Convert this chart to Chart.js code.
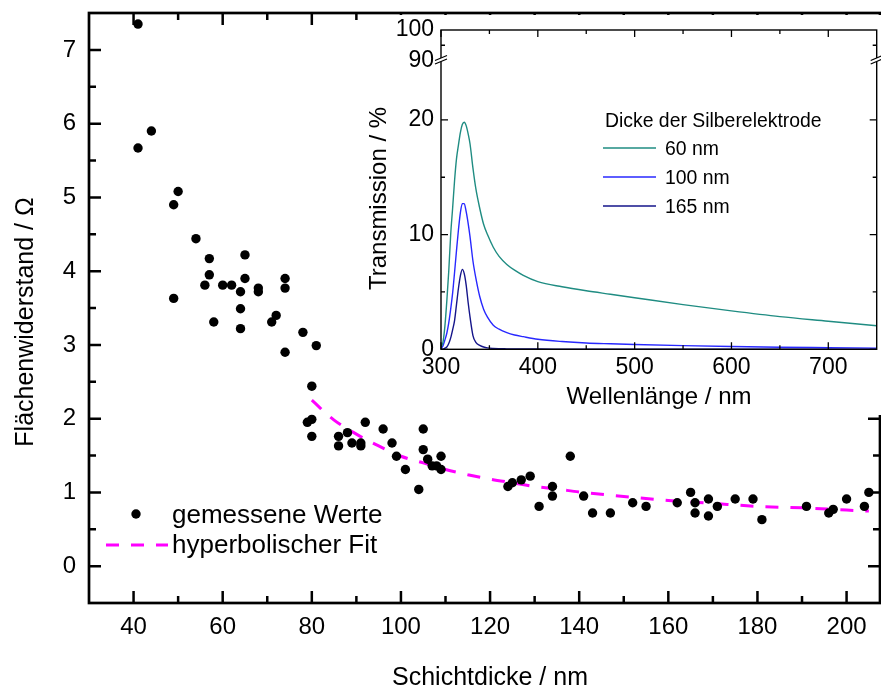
<!DOCTYPE html>
<html>
<head>
<meta charset="utf-8">
<script src="https://cdn.jsdelivr.net/npm/chart.js@4/dist/chart.umd.min.js"></script>
<style>
  body { margin: 0; background: #fff; }
  #wrap { position: relative; width: 881px; height: 689px; }
  #mainChart { position: absolute; left: 0; top: 0; }
  #insetChart { position: absolute; left: 362px; top: 15px; }
</style>
</head>
<body>
<div id="wrap">
  <canvas id="mainChart" width="881" height="689"></canvas>
  <canvas id="insetChart" width="519" height="400"></canvas>
</div>

<script>
// Flächenwiderstand über Schichtdicke (Messpunkte)
var schichtdicke = [41, 41, 44, 49, 50, 49, 54, 57, 57, 56, 58, 60, 62, 65, 65, 64, 64, 64, 68, 68,
  71, 72, 74, 74, 78, 81, 74, 80, 79, 80, 80, 86, 86, 88, 89, 91, 91, 92, 96, 98,
  99, 101, 104, 105, 105, 106, 107, 108, 109, 109, 124, 125, 127, 129, 131, 134, 134, 138, 141, 143,
  147, 152, 155, 162, 165, 166, 166, 169, 169, 171, 175, 179, 181, 191, 196, 197, 200, 204, 205];
var widerstand = [7.35, 5.67, 5.90, 4.90, 5.08, 3.63, 4.44, 4.17, 3.95, 3.81, 3.31, 3.81, 3.81, 4.22, 3.90, 3.72, 3.49, 3.22, 3.77, 3.72,
  3.31, 3.40, 3.90, 3.77, 3.17, 2.99, 2.90, 2.44, 1.95, 1.99, 1.76, 1.76, 1.63, 1.81, 1.67, 1.67, 1.63, 1.95, 1.86, 1.67,
  1.49, 1.31, 1.04, 1.86, 1.58, 1.45, 1.36, 1.36, 1.49, 1.31, 1.08, 1.13, 1.17, 1.22, 0.81, 1.08, 0.95, 1.49, 0.95, 0.72,
  0.72, 0.86, 0.81, 0.86, 1.00, 0.86, 0.72, 0.91, 0.68, 0.81, 0.91, 0.91, 0.63, 0.81, 0.72, 0.77, 0.91, 0.81, 1.00];

// hyperbolischer Fit
var fitDicke = [80, 85, 90, 95, 100, 105, 110, 115, 120, 125, 130, 135, 140, 150, 160, 170, 180, 190, 200, 205];
var fitWert  = [2.25, 1.98, 1.79, 1.63, 1.49, 1.40, 1.31, 1.24, 1.18, 1.13, 1.08, 1.045, 1.005, 0.945, 0.89, 0.85, 0.81, 0.79, 0.76, 0.747];

var xTicksMain = [40, 60, 80, 100, 120, 140, 160, 180, 200];
var xMinorMain = [50, 70, 90, 110, 130, 150, 170, 190];
var yTicksMain = [0, 1, 2, 3, 4, 5, 6, 7];
var yMinorMain = [0.5, 1.5, 2.5, 3.5, 4.5, 5.5, 6.5];

// Transmissionsspektren
var wellenlaenge = [300, 302, 304, 306, 308, 310, 312, 314, 316, 318, 320, 322, 324, 326, 328, 330, 333, 336, 340, 344,
  348, 354, 360, 368, 376, 385, 400, 425, 450, 475, 500, 550, 600, 650, 700, 750];
var trans60 = [0.2, 0.6, 2.0, 4.2, 6.8, 10.0, 12.3, 14.7, 16.6, 17.8, 18.9, 19.6, 19.8, 19.5, 18.8, 17.9, 15.8, 14.0, 12.3, 10.9,
  10.0, 8.9, 8.1, 7.4, 6.9, 6.45, 5.9, 5.45, 5.1, 4.8, 4.5, 3.9, 3.35, 2.85, 2.45, 2.05];
var trans100 = [0.05, 0.3, 0.8, 1.4, 2.3, 3.5, 4.9, 6.7, 8.6, 10.4, 11.9, 12.7, 12.7, 12.0, 11.0, 9.8, 7.7, 6.2, 4.6, 3.5,
  2.8, 2.1, 1.75, 1.45, 1.25, 1.1, 0.88, 0.68, 0.55, 0.48, 0.42, 0.32, 0.24, 0.18, 0.14, 0.10];
var trans165 = [0, 0, 0.1, 0.2, 0.5, 1.0, 1.7, 2.5, 3.9, 5.3, 6.4, 6.97, 6.6, 5.6, 4.1, 2.8, 1.2, 0.6, 0.35, 0.2,
  0.12, 0.07, 0.05, 0.04, 0.03, 0.02, 0.02, 0.015, 0.01, 0.01, 0.01, 0.01, 0.01, 0.01, 0.01, 0.01];
var dickeLabels = ["60 nm", "100 nm", "165 nm"];

var xTicksInset = [300, 400, 500, 600, 700];
var xMinorInset = [350, 450, 550, 650];
var yTicksLow = [0, 10, 20];
var yMinorLow = [5, 15];
var yTicksHigh = [90, 100];
var yMinorHigh = [95];

var FONT = "'Liberation Sans', Arial, sans-serif";

function pts(xs, ys) {
  return xs.map(function (x, i) { return {x: x, y: ys[i]}; });
}
function fixTicks(list) {
  return function (s) { s.ticks = list.map(function (v) { return {value: v}; }); };
}
// feste Achsenbreite/-höhe, ohne zusätzlichen Rand für Beschriftungen
function fixSize(w, h) {
  return function (s) {
    if (w) s.width = w;
    if (h) s.height = h;
    s.paddingTop = 0; s.paddingBottom = 0;
    s.paddingLeft = 0; s.paddingRight = 0;
  };
}

var whiteBg = {
  id: 'whiteBg',
  beforeDraw: function (chart) {
    var ctx = chart.ctx;
    ctx.save();
    ctx.fillStyle = '#fff';
    ctx.fillRect(0, 0, chart.width, chart.height);
    ctx.restore();
  }
};

// Rahmen mit nach innen zeigenden Ticks auf allen vier Seiten
var frameTicks = {
  id: 'frameTicks',
  afterDatasetsDraw: function (chart, args, o) {
    var ctx = chart.ctx, a = chart.chartArea;
    ctx.save();
    ctx.strokeStyle = '#000';
    ctx.lineWidth = o.tickWidth;
    ctx.beginPath();
    o.x.forEach(function (g) {
      var sc = chart.scales[g.id];
      g.values.forEach(function (v) {
        var p = sc.getPixelForValue(v);
        ctx.moveTo(p, a.bottom); ctx.lineTo(p, a.bottom - g.len);
        ctx.moveTo(p, a.top); ctx.lineTo(p, a.top + g.len);
      });
    });
    o.y.forEach(function (g) {
      var sc = chart.scales[g.id];
      g.values.forEach(function (v) {
        var p = sc.getPixelForValue(v);
        ctx.moveTo(a.left, p); ctx.lineTo(a.left + g.len, p);
        ctx.moveTo(a.right, p); ctx.lineTo(a.right - g.len, p);
      });
    });
    ctx.stroke();
    ctx.lineWidth = o.frameWidth;
    ctx.strokeRect(a.left, a.top, a.right - a.left, a.bottom - a.top);
    ctx.restore();
  }
};

// Achsentitel und Legende des Hauptdiagramms
var mainLabels = {
  id: 'mainLabels',
  afterDraw: function (chart) {
    var ctx = chart.ctx;
    var ds = chart.data.datasets;
    ctx.save();
    ctx.fillStyle = '#000';
    ctx.font = '25px ' + FONT;
    ctx.textAlign = 'center';
    ctx.textBaseline = 'alphabetic';
    ctx.fillText('Schichtdicke / nm', 490, 685);
    ctx.save();
    ctx.translate(33, 322);
    ctx.rotate(-Math.PI / 2);
    ctx.fillText('Flächenwiderstand / Ω', 0, 0);
    ctx.restore();

    ctx.textAlign = 'left';
    ctx.font = '26px ' + FONT;
    ctx.beginPath();
    ctx.arc(136, 514, ds[0].pointRadius, 0, Math.PI * 2);
    ctx.fillStyle = ds[0].backgroundColor;
    ctx.fill();
    ctx.fillStyle = '#000';
    ctx.fillText(ds[0].label, 172, 523);

    ctx.strokeStyle = ds[1].borderColor;
    ctx.lineWidth = ds[1].borderWidth;
    ctx.setLineDash(ds[1].borderDash);
    ctx.beginPath();
    ctx.moveTo(106, 545); ctx.lineTo(168, 545);
    ctx.stroke();
    ctx.setLineDash([]);
    ctx.fillText(ds[1].label, 172, 553);
    ctx.restore();
  }
};

new Chart(document.getElementById('mainChart'), {
  data: {
    datasets: [{
      type: 'scatter',
      label: 'gemessene Werte',
      data: pts(schichtdicke, widerstand),
      pointRadius: 4.7,
      pointBorderWidth: 0,
      backgroundColor: '#000',
      borderColor: '#000'
    }, {
      type: 'line',
      label: 'hyperbolischer Fit',
      data: pts(fitDicke, fitWert),
      borderColor: '#ff00ff',
      borderWidth: 3,
      borderDash: [13, 12],
      pointRadius: 0,
      cubicInterpolationMode: 'monotone',
      fill: false
    }]
  },
  options: {
    responsive: false,
    animation: false,
    devicePixelRatio: 1,
    layout: {autoPadding: false, padding: {top: 13, right: 1, left: 0, bottom: 0}},
    plugins: {
      legend: {display: false},
      tooltip: {enabled: false},
      frameTicks: {
        tickWidth: 2.5, frameWidth: 2.7,
        x: [{id: 'x', values: xTicksMain, len: 12}, {id: 'x', values: xMinorMain, len: 7}],
        y: [{id: 'y', values: yTicksMain, len: 12}, {id: 'y', values: yMinorMain, len: 7}]
      }
    },
    scales: {
      x: {
        type: 'linear', min: 30, max: 207.5,
        afterBuildTicks: fixTicks(xTicksMain),
        afterFit: fixSize(0, 86),
        grid: {display: false, drawTicks: false},
        border: {display: false},
        ticks: {color: '#000', padding: 10, maxRotation: 0, autoSkip: false, font: {family: FONT, size: 24}}
      },
      y: {
        type: 'linear', min: -0.5, max: 7.5,
        afterBuildTicks: fixTicks(yTicksMain),
        afterFit: fixSize(89, 0),
        grid: {display: false, drawTicks: false},
        border: {display: false},
        ticks: {color: '#000', padding: 13, autoSkip: false, font: {family: FONT, size: 24}}
      }
    }
  },
  plugins: [whiteBg, frameTicks, mainLabels]
});

// Achsentitel, Achsenbruch und Legende des Einsatzdiagramms
var insetLabels = {
  id: 'insetLabels',
  afterDraw: function (chart) {
    var ctx = chart.ctx, a = chart.chartArea;
    var ds = chart.data.datasets;
    var yb = chart.scales.yLow.top;
    ctx.save();
    // Achsenbruch links und rechts
    [a.left, a.right].forEach(function (x) {
      ctx.fillStyle = '#fff';
      ctx.beginPath();
      ctx.moveTo(x - 6, yb + 3.5); ctx.lineTo(x + 6, yb - 1.5);
      ctx.lineTo(x + 6, yb - 5); ctx.lineTo(x - 6, yb);
      ctx.closePath();
      ctx.fill();
      ctx.strokeStyle = '#000';
      ctx.lineWidth = 1.2;
      ctx.beginPath();
      ctx.moveTo(x - 6, yb + 3.5); ctx.lineTo(x + 6, yb - 1.5);
      ctx.moveTo(x - 6, yb); ctx.lineTo(x + 6, yb - 5);
      ctx.stroke();
    });

    ctx.fillStyle = '#000';
    ctx.font = '24px ' + FONT;
    ctx.textAlign = 'center';
    ctx.fillText('Wellenlänge / nm', 297, 389);
    ctx.save();
    ctx.translate(24, 183.5);
    ctx.rotate(-Math.PI / 2);
    ctx.fillText('Transmission / %', 0, 0);
    ctx.restore();

    ctx.textAlign = 'left';
    ctx.font = '19.4px ' + FONT;
    ctx.fillText('Dicke der Silberelektrode', 243, 112);
    var rows = [133, 162, 191];
    ds.forEach(function (d, i) {
      ctx.strokeStyle = d.borderColor;
      ctx.lineWidth = d.borderWidth;
      ctx.beginPath();
      ctx.moveTo(241, rows[i]); ctx.lineTo(294, rows[i]);
      ctx.stroke();
      ctx.fillStyle = '#000';
      ctx.fillText(d.label, 303, rows[i] + 7);
    });
    ctx.restore();
  }
};

function spektrum(label, ys, color) {
  return {
    label: label,
    data: pts(wellenlaenge, ys),
    yAxisID: 'yLow',
    borderColor: color,
    borderWidth: 1.4,
    pointRadius: 0,
    cubicInterpolationMode: 'monotone',
    fill: false
  };
}

new Chart(document.getElementById('insetChart'), {
  type: 'line',
  data: {
    datasets: [
      spektrum(dickeLabels[0], trans60, '#1f8c82'),
      spektrum(dickeLabels[1], trans100, '#2828ff'),
      spektrum(dickeLabels[2], trans165, '#15158a')
    ]
  },
  options: {
    responsive: false,
    animation: false,
    devicePixelRatio: 1,
    layout: {autoPadding: false, padding: {top: 15, right: 4.3, left: 0, bottom: 0}},
    plugins: {
      legend: {display: false},
      tooltip: {enabled: false},
      frameTicks: {
        tickWidth: 1.3, frameWidth: 1.4,
        x: [{id: 'x', values: xTicksInset, len: 7}, {id: 'x', values: xMinorInset, len: 4}],
        y: [{id: 'yLow', values: yTicksLow, len: 7}, {id: 'yLow', values: yMinorLow, len: 4},
            {id: 'yHigh', values: yMinorHigh, len: 4}]
      }
    },
    scales: {
      x: {
        type: 'linear', min: 300, max: 750,
        afterBuildTicks: fixTicks(xTicksInset),
        afterFit: fixSize(0, 65.7),
        grid: {display: false, drawTicks: false},
        border: {display: false},
        ticks: {color: '#000', padding: 5, maxRotation: 0, autoSkip: false, font: {family: FONT, size: 23}}
      },
      yLow: {
        type: 'linear', position: 'left', stack: 'T', stackWeight: 288.8,
        min: 0, max: 25.18,
        afterBuildTicks: fixTicks(yTicksLow),
        afterFit: fixSize(79, 0),
        grid: {display: false, drawTicks: false},
        border: {display: false},
        ticks: {color: '#000', padding: 7, autoSkip: false, font: {family: FONT, size: 23}}
      },
      yHigh: {
        type: 'linear', position: 'left', stack: 'T', stackWeight: 30.5,
        min: 90, max: 100,
        afterBuildTicks: fixTicks(yTicksHigh),
        afterFit: fixSize(79, 0),
        grid: {display: false, drawTicks: false},
        border: {display: false},
        ticks: {color: '#000', padding: 7, autoSkip: false, font: {family: FONT, size: 23}}
      }
    }
  },
  plugins: [whiteBg, frameTicks, insetLabels]
});
</script>
</body>
</html>
